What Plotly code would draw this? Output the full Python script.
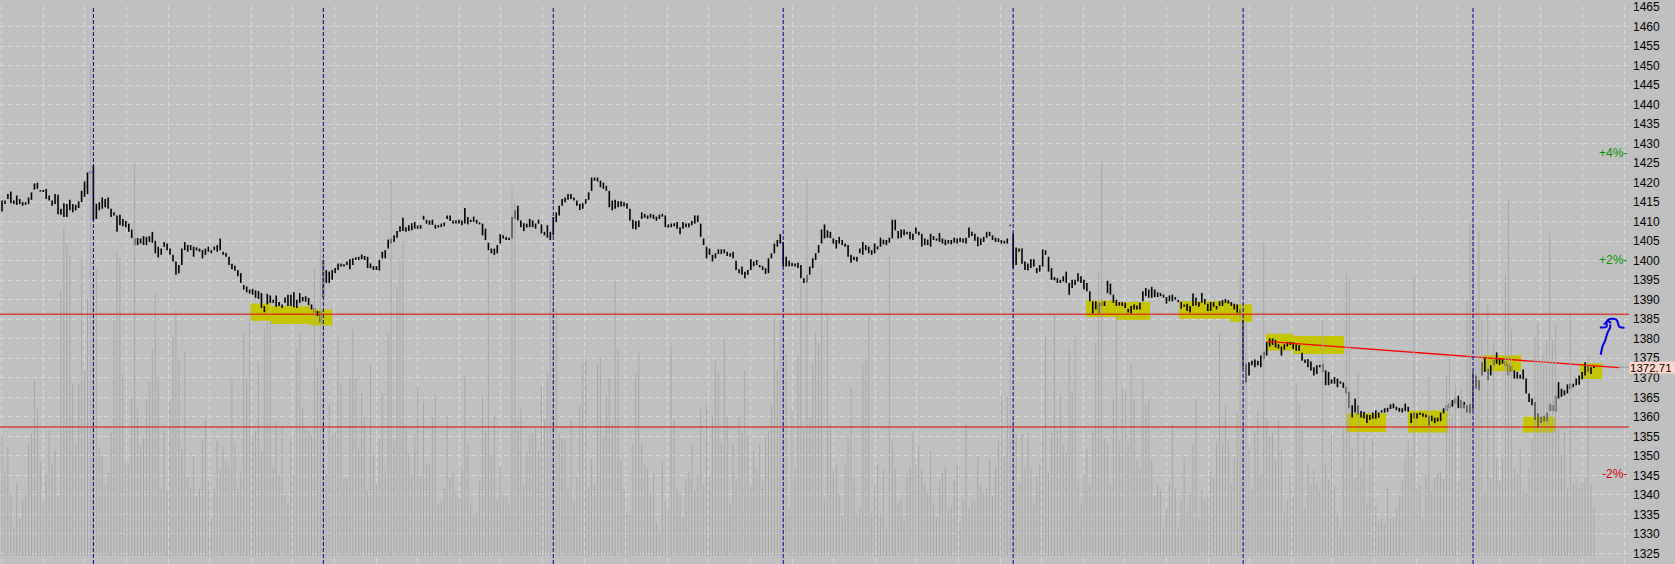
import plotly.graph_objects as go

# ---------------- data: 5-minute bars (high / low / volume), one list per session ----------------
HIGH_D1 = [1415.4,1415.4,1417.1,1417.7,1415.4,1416.7,1415.8,1415.0,1415.0,1416.2,1417.5,1419.8,1420.0,1418.1,1418.1,1418.4,1416.7,1415.4,1417.1,1416.9,1413.3,1414.7,1414.5,1415.6,1414.5,1414.3,1415.2,1417.9,1420.3,1422.6,1422.9]
LOW_D1 = [1412.6,1414.5,1415.8,1414.7,1414.5,1414.3,1414.5,1414.1,1414.3,1414.5,1415.6,1418.2,1418.4,1417.7,1417.6,1415.8,1415.4,1414.1,1414.5,1411.9,1411.8,1411.2,1411.2,1412.9,1412.4,1412.9,1413.5,1415.0,1416.4,1417.1,1422.3]
VOL_D1 = [122,86,112,64,30,74,38,57,64,114,124,178,149,95,54,83,127,92,107,60,268,332,316,305,174,115,174,301,188,260,498]

HIGH_D2 = [1424.4,1414.6,1415.0,1416.2,1415.8,1416.2,1413.3,1412.4,1411.6,1411.8,
           1410.7,1410.2,1409.5,1408.0,1405.7,1405.8,1405.7,1406.3,1406.1,1406.3,
           1407.4,1405.1,1403.6,1403.1,1404.8,1404.4,1403.1,1401.5,1399.8,1398.9,
           1403.1,1404.8,1404.0,1404.0,1403.6,1403.4,1403.1,1402.7,1403.1,1403.6,
           1402.7,1403.6,1404.0,1405.7,1402.3,1402.0,1401.0,1399.2,1398.7,1397.6,
           1396.8,1393.8,1393.4,1392.6,1392.8,1392.4,1392.2,1391.7,1388.4,1391.5,
           1391.1,1390.0,1391.1,1389.4,1388.8,1390.6,1391.3,1391.3,1391.9,1390.0,
           1391.7,1390.7,1390.9,1390.5,1388.8,1387.9,1387.1,1387.1]
LOW_D2 = [1410.3,1410.7,1412.9,1413.3,1413.7,1413.3,1411.2,1411.6,1407.4,1409.1,
          1408.8,1408.6,1407.4,1405.8,1404.0,1404.0,1404.4,1404.0,1404.0,1404.8,
          1404.6,1401.9,1400.8,1401.5,1403.6,1402.7,1401.5,1399.8,1396.4,1396.8,
          1398.9,1402.7,1402.3,1402.7,1401.0,1402.6,1402.3,1400.6,1401.5,1402.3,
          1401.9,1402.7,1402.3,1402.7,1401.5,1401.0,1398.9,1397.8,1397.4,1396.0,
          1394.3,1392.6,1391.9,1391.6,1391.3,1390.5,1390.2,1387.9,1386.8,1388.8,
          1389.2,1389.2,1388.2,1388.4,1387.9,1389.2,1388.4,1388.4,1388.1,1387.9,
          1389.2,1389.6,1389.5,1388.6,1387.5,1386.7,1385.8,1384.1]
VOL_D2 = [280,290,110,101,72,84,126,238,307,301,184,95,93,160,396,148,112,119,157,176,
          209,265,178,68,127,66,157,221,249,201,108,207,80,69,100,60,68,117,139,76,
          38,68,117,87,111,96,91,179,115,68,86,227,179,240,121,127,196,106,229,236,
          238,91,135,81,130,61,53,121,82,210,227,150,128,127,122,290,189,330]

HIGH_D3 = [1400.2,1397.6,1397.2,1397.6,1398.1,1399.3,1399.3,1399.1,1399.8,1400.4,
           1400.6,1400.9,1401.0,1401.6,1401.2,1401.0,1399.3,1398.6,1398.6,1400.2,
           1402.3,1402.7,1405.4,1405.7,1406.5,1407.6,1408.8,1411.0,1408.6,1409.1,
           1409.6,1409.9,1409.0,1409.1,1411.5,1410.5,1410.3,1410.5,1409.2,1409.1,
           1409.5,1409.8,1411.6,1411.6,1410.3,1410.3,1410.5,1410.3,1413.5,1411.2,
           1410.5,1411.3,1410.5,1409.8,1409.5,1408.2,1404.6,1403.1,1403.1,1404.0,
           1406.8,1406.5,1406.1,1405.9,1411.2,1412.9,1414.1,1410.3,1409.6,1409.5,
           1410.7,1410.3,1409.5,1410.5,1409.3,1407.4,1409.1,1407.4]
LOW_D3 = [1390.5,1394.3,1394.3,1395.1,1396.8,1397.6,1398.5,1398.5,1398.9,1397.8,
          1398.9,1400.2,1400.2,1400.4,1400.2,1398.1,1398.1,1397.6,1397.6,1397.5,
          1400.6,1400.6,1403.1,1404.4,1404.8,1405.9,1407.4,1407.6,1407.4,1407.6,
          1407.8,1408.2,1408.2,1408.2,1410.5,1409.5,1409.2,1409.2,1408.2,1408.5,
          1408.6,1408.8,1410.7,1410.2,1409.5,1409.5,1409.5,1409.1,1409.5,1409.3,
          1409.9,1409.9,1409.5,1409.3,1406.5,1405.3,1402.7,1401.9,1401.5,1401.9,
          1404.4,1405.7,1405.3,1405.3,1405.7,1410.7,1410.3,1408.6,1407.6,1408.5,
          1408.6,1408.6,1408.2,1409.5,1407.0,1406.5,1405.9,1405.3]
VOL_D3 = [300,83,154,123,126,222,174,78,79,179,229,180,109,165,141,66,193,103,73,118,
          164,86,225,379,116,272,298,319,131,104,83,123,171,81,156,93,93,141,163,53,
          56,69,141,79,86,66,59,87,183,114,54,43,43,76,162,128,306,103,143,56,
          90,60,61,53,373,360,137,150,72,106,123,123,129,106,172,138,185,299]

HIGH_D4 = [1411.2,1412.4,1414.1,1415.8,1416.2,1417.1,1417.1,1416.2,1415.4,1414.6,
           1414.7,1415.8,1417.5,1421.3,1421.3,1421.3,1420.5,1420.0,1419.2,1417.9,
           1415.4,1415.6,1415.2,1415.2,1415.0,1414.7,1413.3,1410.5,1410.2,1410.3,
           1412.4,1412.0,1411.6,1412.0,1411.8,1411.3,1411.8,1412.0,1411.6,1409.3,
           1409.5,1409.6,1409.9,1408.6,1409.9,1409.5,1409.6,1410.2,1411.6,1411.6,
           1409.5,1405.7,1403.6,1403.1,1401.5,1401.9,1402.9,1402.9,1402.9,1402.3,
           1401.9,1402.3,1400.0,1397.8,1398.5,1397.2,1397.6,1400.4,1399.8,1400.2,
           1398.9,1398.6,1398.1,1400.6,1401.9,1404.4,1405.3,1406.8]
LOW_D4 = [1406.5,1409.9,1411.6,1414.1,1415.0,1415.6,1415.8,1415.4,1414.1,1413.0,
          1413.3,1414.6,1415.6,1417.9,1420.5,1420.3,1418.8,1418.4,1417.9,1413.7,
          1412.9,1413.3,1413.7,1413.9,1413.9,1413.3,1410.3,1408.2,1408.0,1408.6,
          1410.7,1411.0,1410.7,1411.0,1410.7,1410.2,1410.7,1411.3,1408.6,1408.5,
          1408.6,1408.8,1408.2,1406.8,1408.2,1408.6,1408.6,1409.1,1409.5,1409.9,
          1406.1,1404.0,1400.6,1401.5,1399.8,1400.6,1401.7,1401.7,1401.9,1401.2,
          1401.0,1400.6,1397.6,1396.8,1396.4,1395.5,1396.4,1397.6,1398.6,1398.9,
          1398.3,1397.6,1396.6,1396.8,1400.6,1401.9,1403.6,1404.4]
VOL_D4 = [299,249,124,119,118,69,138,56,80,152,196,200,69,98,73,194,200,
          121,163,180,133,277,209,97,68,45,42,112,184,206,115,93,90,63,83,34,25,
          96,56,47,213,138,69,63,39,78,86,113,66,82,149,73,152,80,142,197,185,
          115,220,140,53,113,77,141,126,188,123,71,106,87,114,75,120,126,152,241,188,239]

HIGH_D5 = [1404.8,1401.0,1400.0,1399.5,1399.3,1399.5,1398.9,1395.5,1396.4,1398.5,
           1400.6,1401.9,1404.0,1408.0,1409.3,1407.8,1407.4,1405.7,1405.3,1406.1,
           1405.3,1404.4,1404.0,1401.5,1401.0,1401.0,1403.1,1404.8,1404.0,1403.6,
           1402.7,1404.4,1403.7,1405.9,1405.4,1405.3,1405.9,1410.5,1410.5,1407.6,
           1408.0,1408.0,1407.4,1407.4,1406.9,1408.5,1407.4,1406.9,1405.7,1405.4,
           1406.9,1406.3,1405.7,1407.1,1405.7,1405.4,1405.3,1405.3,1405.9,1405.7,
           1405.9,1405.7,1405.9,1408.5,1407.4,1406.9,1406.1,1405.7,1406.1,1407.4,
           1407.4,1406.5,1405.9,1405.7,1405.3,1405.1,1405.7,1409.2]
LOW_D5 = [1398.5,1398.5,1398.6,1398.6,1398.5,1398.1,1395.5,1394.3,1394.4,1396.4,
          1398.1,1400.2,1402.0,1404.4,1405.7,1405.9,1405.8,1404.4,1403.1,1404.4,
          1404.0,1403.6,1401.0,1399.5,1400.2,1399.8,1401.9,1401.5,1402.7,1401.9,
          1401.5,1401.9,1402.9,1403.6,1404.2,1404.0,1404.6,1405.7,1407.8,1405.7,
          1405.9,1406.5,1406.8,1405.5,1405.3,1406.9,1406.5,1403.6,1404.0,1404.0,
          1403.6,1405.3,1405.1,1404.8,1404.4,1404.0,1404.4,1404.2,1404.6,1404.4,
          1404.8,1404.6,1404.4,1405.9,1406.3,1405.1,1403.7,1404.0,1404.8,1405.9,
          1406.3,1405.3,1404.8,1404.8,1404.4,1404.4,1404.4,1408.9]
VOL_D5 = [239,204,48,147,89,203,277,130,382,140,194,226,215,293,59,244,134,86,93,62,
          41,93,122,170,79,43,48,194,200,243,44,71,93,43,88,29,303,116,89,53,
          57,36,83,91,124,93,111,88,74,64,106,53,39,76,84,91,49,51,76,94,
          34,56,134,48,57,56,100,71,64,69,98,61,91,118,161,101,161,216]

HIGH_D6 = [1406.9,1403.4,1403.1,1403.1,1399.8,1399.3,1400.4,1400.4,1398.1,1398.9,
           1402.9,1402.7,1401.0,1398.1,1395.8,1395.5,1395.1,1396.0,1397.2,1394.3,
           1395.1,1395.1,1396.8,1396.0,1395.1,1394.3,1392.2,1389.6,1389.6,1389.2,
           1389.4,1389.6,1394.9,1394.1,1391.3,1390.0,1389.4,1389.4,1389.2,1387.7,
           1388.4,1388.8,1388.5,1389.2,1392.2,1393.0,1392.6,1393.3,1392.6,1391.9,
           1391.7,1391.3,1390.7,1391.1,1391.3,1390.7,1390.0,1389.4,1388.8,1389.0,
           1388.4,1391.6,1390.6,1389.4,1391.7,1390.2,1389.0,1389.4,1389.4,1388.4,
           1389.6,1389.9,1390.2,1389.9,1389.4,1389.0,1388.8,1387.5]
LOW_D6 = [1398.1,1398.9,1402.3,1399.2,1397.6,1397.5,1398.1,1398.5,1396.8,1397.2,
          1398.5,1401.5,1397.2,1395.1,1395.0,1394.3,1394.3,1394.7,1394.3,1391.3,
          1393.0,1393.8,1394.7,1394.3,1392.6,1392.2,1389.6,1386.5,1387.5,1386.5,
          1388.4,1388.4,1391.7,1391.3,1389.2,1388.4,1388.5,1388.4,1387.9,1386.7,
          1386.5,1387.5,1387.5,1387.5,1389.6,1390.9,1390.5,1390.5,1390.7,1390.7,
          1390.9,1390.5,1389.0,1389.6,1389.6,1390.0,1389.4,1387.7,1388.2,1387.1,
          1386.7,1388.4,1388.5,1388.2,1389.2,1388.8,1387.1,1387.1,1388.2,1387.5,
          1388.4,1388.4,1389.2,1389.0,1388.4,1387.5,1386.7,1386.5]
VOL_D6 = [139,123,74,123,89,124,90,54,81,93,129,222,84,124,244,128,164,113,104,209,
          166,223,76,54,83,108,73,126,216,288,398,119,113,71,161,243,116,170,168,114,
          194,158,96,90,179,153,159,98,61,74,66,29,48,74,133,69,29,57,99,46,
          63,113,159,39,67,56,60,85,79,116,226,114,152,116,74,99,145,285]

HIGH_D7 = [1384.9,1373.6,1374.0,1374.4,1374.7,1374.4,1375.7,1376.7,1379.2,1380.1,
           1380.1,1379.7,1378.6,1378.0,1378.6,1379.2,1379.2,1379.1,1378.6,1378.4,
           1376.4,1374.7,1374.8,1374.2,1372.7,1373.2,1373.3,1373.6,1371.9,1371.5,
           1369.6,1370.2,1369.8,1369.1,1368.8,1367.6,1366.4,1363.0,1364.7,1363.0,
           1361.5,1361.3,1360.6,1360.5,1361.1,1361.7,1361.1,1361.7,1362.2,1362.3,
           1363.2,1363.4,1362.6,1362.3,1362.2,1363.4,1362.6,1360.9,1361.1,1360.9,
           1361.1,1360.9,1360.6,1360.3,1360.3,1359.8,1359.8,1361.1,1362.2,1363.0,
           1363.4,1364.3,1364.7,1365.4,1364.3,1363.8,1363.0,1363.2]
LOW_D7 = [1372.3,1368.8,1370.6,1373.2,1372.7,1373.2,1372.7,1374.8,1375.7,1378.0,
          1378.4,1377.8,1377.5,1375.7,1377.2,1378.0,1378.4,1377.4,1376.9,1376.9,
          1374.4,1373.8,1372.7,1371.9,1370.6,1371.0,1372.7,1371.5,1368.1,1368.1,
          1368.5,1368.5,1367.6,1368.5,1367.4,1366.0,1362.2,1359.8,1361.1,1360.6,
          1359.8,1359.6,1358.4,1359.2,1359.5,1359.5,1359.8,1361.1,1361.1,1361.3,
          1362.0,1362.2,1361.7,1361.3,1361.1,1361.5,1361.3,1358.4,1359.6,1359.6,
          1360.5,1360.0,1359.8,1357.8,1358.9,1358.4,1358.8,1358.9,1360.9,1361.5,
          1362.2,1362.6,1363.4,1362.2,1362.2,1362.2,1361.1,1360.9]
VOL_D7 = [309,236,110,68,124,146,83,316,140,121,124,98,138,108,46,56,84,60,174,154,
          133,49,93,73,87,74,66,239,94,77,123,71,43,29,129,286,281,109,79,186,
          88,119,53,99,119,51,34,39,34,69,38,39,49,60,76,99,116,101,283,69,
          72,39,83,181,66,79,83,86,78,183,203,143,173,76,169,153,259,336]

HIGH_D8 = [1371.5,1370.6,1369.4,1374.0,1375.0,1372.3,1373.2,1374.7,1376.5,1375.0,
           1374.8,1374.2,1373.6,1373.0,1371.9,1371.5,1370.8,1372.1,1369.8,1366.0,
           1364.7,1363.8,1360.9,1360.0,1360.3,1361.1,1363.4,1363.0,1365.5,1368.9,
           1367.2,1366.8,1368.3,1368.5,1368.5,1369.8,1370.6,1371.5,1374.0,1373.2,
           1372.7,1373.0]
LOW_D8 = [1361.7,1367.2,1366.8,1370.6,1371.5,1369.4,1370.6,1373.2,1373.6,1373.3,
          1373.6,1373.0,1370.6,1371.5,1369.8,1369.8,1369.8,1369.6,1366.0,1363.8,
          1363.0,1359.2,1357.3,1358.4,1358.8,1358.8,1361.5,1361.5,1361.3,1364.7,
          1365.1,1365.5,1366.0,1367.1,1367.6,1368.1,1368.2,1369.6,1370.6,1371.5,
          1371.0,1372.5]
VOL_D8 = [338,258,328,241,64,253,79,218,98,76,99,284,361,229,89,83,109,66,63,89,
          119,221,236,199,206,219,326,219,234,129,103,126,69,246,73,76,69,75,79,203,
          73,49]

LAST_PRICE = 1372.71
PCT_MARKS = [4, 2, -2]
LEVEL_LINES = [1386.3, 1357.4]
TREND_X = [429.4, 548.5]
TREND_Y = [1379.3, 1372.6]
Y_TICKS = list(range(1325, 1466, 5))

# highlighter strokes (bar index from/to, price from/to)
HIGHLIGHTS = [
    (84.4, 91.0, 1384.6, 1389.0), (91.0, 104.5, 1383.8, 1388.3), (104.5, 112.0, 1383.4, 1387.5),
    (367.7, 378.0, 1385.6, 1389.8), (378.0, 389.4, 1384.9, 1389.4),
    (399.3, 416.6, 1385.1, 1389.6), (416.6, 424.0, 1384.3, 1388.8),
    (428.8, 438.0, 1377.0, 1381.3), (438.0, 455.2, 1376.1, 1380.7),
    (456.2, 469.5, 1356.1, 1360.9), (476.9, 490.5, 1356.0, 1361.6),
    (502.4, 515.3, 1371.7, 1375.8), (516.0, 526.8, 1356.0, 1360.0),
    (535.4, 542.8, 1369.7, 1373.7),
]
# hand-drawn blue doodle
BLUE_STEM_X = [542.3, 543.0, 543.8, 544.3, 544.9, 545.5, 545.5]
BLUE_STEM_Y = [1375.9, 1378.2, 1379.5, 1380.8, 1382.0, 1382.9, 1383.7]
BLUE_HAT_X = [542.0, 544.3, 544.3, 545.2, 546.5, 547.7, 548.2, 548.6, 550.4]
BLUE_HAT_Y = [1382.9, 1383.1, 1384.4, 1385.0, 1385.1, 1384.8, 1383.9, 1383.1, 1382.8]
BLUE_LOOP_X = [543.4, 544.8, 545.8]
BLUE_LOOP_Y = [1383.6, 1384.5, 1384.0]

DAYS_H = [HIGH_D1, HIGH_D2, HIGH_D3, HIGH_D4, HIGH_D5, HIGH_D6, HIGH_D7, HIGH_D8]
DAYS_L = [LOW_D1, LOW_D2, LOW_D3, LOW_D4, LOW_D5, LOW_D6, LOW_D7, LOW_D8]
DAYS_V = [VOL_D1, VOL_D2, VOL_D3, VOL_D4, VOL_D5, VOL_D6, VOL_D7, VOL_D8]
for k, (h, l, v) in enumerate(zip(DAYS_H, DAYS_L, DAYS_V)):
    assert len(h) == len(l) == len(v), (k, len(h), len(l), len(v))

high = [p for d in DAYS_H for p in d]
low = [p for d in DAYS_L for p in d]
vol = [p for d in DAYS_V for p in d]

starts = []
c = 0
for d in DAYS_H[:-1]:
    c += len(d)
    starts.append(c)

# ---------------- build traces ----------------
bx, by = [], []
for i, (h, l) in enumerate(zip(high, low)):
    bx += [i, i, None]
    by += [l, h, None]
vx, vy = [], []
for i, v in enumerate(vol):
    vx += [i, i, None]
    vy += [0, v, None]

BG = "rgb(192,192,192)"
GRID = "rgb(214,214,214)"
FONT = "Arial, Liberation Sans, sans-serif"

fig = go.Figure()
fig.add_trace(go.Scatter(x=vx, y=vy, mode="lines", yaxis="y2",
                         line=dict(color="rgb(168,168,168)", width=1), hoverinfo="skip"))
fig.add_trace(go.Scatter(x=bx, y=by, mode="lines",
                         line=dict(color="black", width=1.6), hoverinfo="skip"))
fig.add_trace(go.Scatter(x=TREND_X, y=TREND_Y, mode="lines",
                         line=dict(color="rgb(255,0,0)", width=1.3), hoverinfo="skip"))
for xs, ys in [(BLUE_STEM_X, BLUE_STEM_Y), (BLUE_HAT_X, BLUE_HAT_Y), (BLUE_LOOP_X, BLUE_LOOP_Y)]:
    fig.add_trace(go.Scatter(x=xs, y=ys, mode="lines", line=dict(color="rgb(0,0,235)", width=2),
                             line_shape="spline", hoverinfo="skip"))

shapes = []
for (x0, x1, y0, y1) in HIGHLIGHTS:
    shapes.append(dict(type="rect", xref="x", yref="y", x0=x0, x1=x1, y0=y0, y1=y1,
                       fillcolor="rgb(197,197,0)", line=dict(width=0), layer="between"))
for s in starts:
    shapes.append(dict(type="line", xref="x", yref="paper", x0=s, x1=s, y0=0, y1=1,
                       line=dict(color="rgb(0,0,140)", width=1, dash="4px,2px"), layer="above"))
for lv in LEVEL_LINES:
    shapes.append(dict(type="line", xref="paper", yref="y", x0=0, x1=1, y0=lv, y1=lv,
                       line=dict(color="rgb(225,0,0)", width=1), layer="above"))
shapes.append(dict(type="line", xref="x", yref="y", x0=TREND_X[-1], x1=551.9,
                   y0=LAST_PRICE, y1=LAST_PRICE, line=dict(color="rgb(150,150,150)", width=1)))

annotations = []
for p in PCT_MARKS:
    lvl = LAST_PRICE * (1 + p / 100.0)
    annotations.append(dict(xref="paper", yref="y", x=1, y=lvl, xanchor="right", yanchor="middle",
                            text=("%+d%%-" % p), showarrow=False,
                            font=dict(family=FONT, size=12,
                                      color="rgb(0,150,0)" if p > 0 else "rgb(215,0,0)")))
annotations.append(dict(xref="paper", yref="y", x=1, y=LAST_PRICE, xanchor="left", yanchor="middle",
                        text="1372.71", showarrow=False, bgcolor="rgb(255,214,204)",
                        borderpad=0, width=46, height=11, align="left",
                        font=dict(family=FONT, size=11.5, color="black")))

fig.update_layout(
    width=1675, height=564,
    margin=dict(l=0, r=46, t=0, b=0),
    paper_bgcolor=BG, plot_bgcolor=BG,
    showlegend=False,
    shapes=shapes, annotations=annotations,
    xaxis=dict(range=[-0.68, 551.9], showgrid=True, gridcolor=GRID, griddash="5px,3px",
               gridwidth=1, tick0=-0.1, dtick=14.111, showticklabels=False, ticks="",
               zeroline=False, showline=False),
    yaxis=dict(range=[1322.3, 1465.25], side="right", tickvals=Y_TICKS,
               ticktext=[str(t) for t in Y_TICKS], showgrid=True, gridcolor=GRID,
               griddash="5px,3px", ticks="", ticklabelstandoff=3, ticklabeloverflow="allow",
               tickfont=dict(family=FONT, size=12, color="black"),
               zeroline=False, showline=False),
    yaxis2=dict(range=[-8, 556], overlaying="y", visible=False, showgrid=False),
)

fig.write_html("out.html", config={"displayModeBar": False},
               post_script="document.body.style.margin='0';document.body.style.overflow='hidden';")
